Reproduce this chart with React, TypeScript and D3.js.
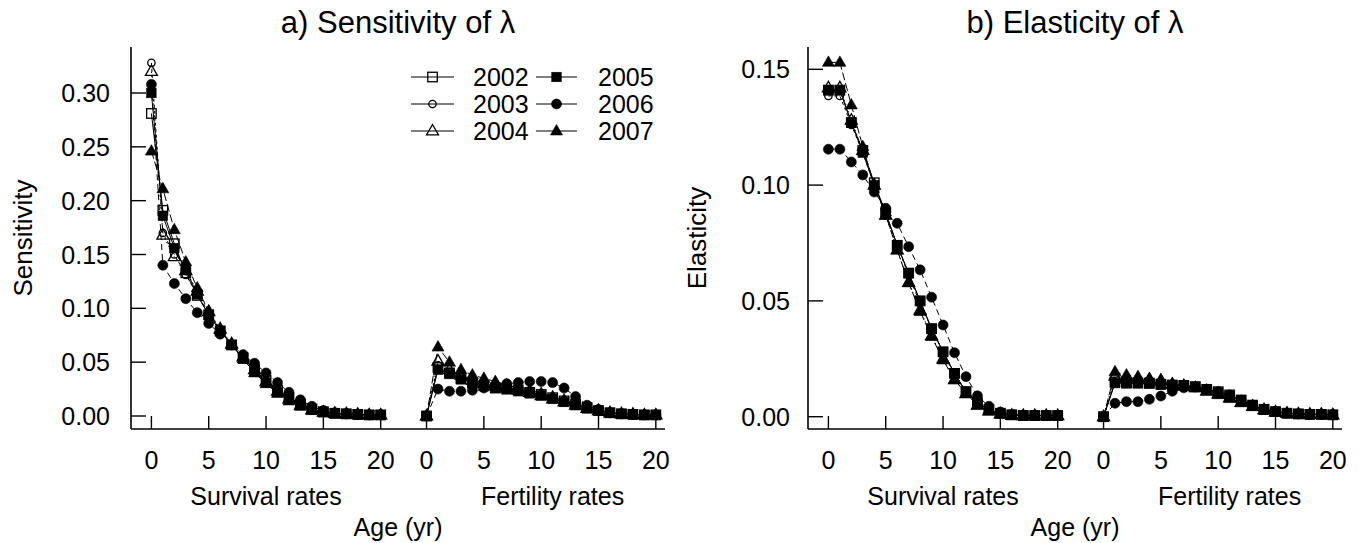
import React from "react";
import * as d3 from "d3";

// ---------- data ----------
const years = ["2002", "2003", "2004", "2005", "2006", "2007"];
const ages = d3.range(0, 21);
const fertOffset = 24; // position offset of fertility block on the shared axis
const ageTicks = [0, 5, 10, 15, 20];
const sensTicks = [0, 0.05, 0.1, 0.15, 0.2, 0.25, 0.3];
const elasTicks = [0, 0.05, 0.1, 0.15];

// Sensitivity – survival rates (ages 0..20)
const sensSurv2002 = [0.281, 0.191, 0.160, 0.133, 0.112, 0.094, 0.079, 0.066, 0.054, 0.043, 0.033, 0.024, 0.017, 0.011, 0.0065, 0.004, 0.0025, 0.002, 0.0015, 0.001, 0.001];
const sensSurv2003 = [0.328, 0.170, 0.150, 0.131, 0.113, 0.096, 0.080, 0.067, 0.055, 0.043, 0.033, 0.024, 0.017, 0.011, 0.0065, 0.004, 0.0025, 0.002, 0.0015, 0.001, 0.001];
const sensSurv2004 = [0.320, 0.168, 0.148, 0.135, 0.116, 0.097, 0.081, 0.067, 0.055, 0.043, 0.032, 0.023, 0.016, 0.010, 0.006, 0.0035, 0.0025, 0.002, 0.0015, 0.001, 0.001];
const sensSurv2005 = [0.300, 0.186, 0.156, 0.136, 0.113, 0.094, 0.079, 0.066, 0.053, 0.041, 0.031, 0.022, 0.015, 0.010, 0.006, 0.0035, 0.0025, 0.002, 0.0015, 0.001, 0.001];
const sensSurv2006 = [0.308, 0.140, 0.123, 0.109, 0.096, 0.086, 0.076, 0.066, 0.057, 0.049, 0.040, 0.031, 0.022, 0.015, 0.009, 0.005, 0.003, 0.002, 0.0015, 0.001, 0.001];
const sensSurv2007 = [0.246, 0.211, 0.173, 0.143, 0.119, 0.097, 0.080, 0.066, 0.053, 0.040, 0.030, 0.021, 0.014, 0.009, 0.005, 0.003, 0.002, 0.0015, 0.001, 0.001, 0.001];

// Sensitivity – fertility rates
const sensFert2002 = [0, 0.045, 0.040, 0.035, 0.031, 0.028, 0.026, 0.025, 0.024, 0.022, 0.020, 0.017, 0.014, 0.011, 0.008, 0.005, 0.003, 0.002, 0.0015, 0.001, 0.001];
const sensFert2003 = [0, 0.047, 0.041, 0.036, 0.032, 0.029, 0.027, 0.025, 0.024, 0.022, 0.020, 0.017, 0.014, 0.011, 0.008, 0.005, 0.003, 0.002, 0.0015, 0.001, 0.001];
const sensFert2004 = [0, 0.051, 0.043, 0.038, 0.033, 0.030, 0.028, 0.026, 0.024, 0.022, 0.019, 0.016, 0.013, 0.010, 0.007, 0.005, 0.003, 0.002, 0.0015, 0.001, 0.001];
const sensFert2005 = [0, 0.043, 0.039, 0.034, 0.031, 0.028, 0.026, 0.025, 0.023, 0.021, 0.019, 0.016, 0.013, 0.010, 0.007, 0.005, 0.003, 0.002, 0.0015, 0.001, 0.001];
const sensFert2006 = [0, 0.025, 0.023, 0.023, 0.024, 0.026, 0.028, 0.030, 0.031, 0.032, 0.032, 0.031, 0.026, 0.018, 0.010, 0.006, 0.003, 0.002, 0.0015, 0.001, 0.001];
const sensFert2007 = [0, 0.064, 0.050, 0.043, 0.038, 0.035, 0.032, 0.029, 0.026, 0.024, 0.021, 0.018, 0.015, 0.011, 0.008, 0.005, 0.003, 0.002, 0.0015, 0.001, 0.001];

// Elasticity – survival rates
const elasSurv2002 = [0.141, 0.141, 0.127, 0.115, 0.101, 0.088, 0.074, 0.062, 0.050, 0.038, 0.028, 0.0187, 0.0108, 0.006, 0.003, 0.0015, 0.0008, 0.0005, 0.0005, 0.0005, 0.0005];
const elasSurv2003 = [0.1385, 0.1385, 0.126, 0.114, 0.100, 0.087, 0.074, 0.061, 0.049, 0.038, 0.028, 0.018, 0.011, 0.006, 0.003, 0.0015, 0.0008, 0.0005, 0.0005, 0.0005, 0.0005];
const elasSurv2004 = [0.142, 0.142, 0.128, 0.115, 0.100, 0.087, 0.072, 0.058, 0.046, 0.035, 0.025, 0.016, 0.010, 0.005, 0.0025, 0.0012, 0.0006, 0.0005, 0.0005, 0.0005, 0.0005];
const elasSurv2005 = [0.141, 0.141, 0.127, 0.114, 0.100, 0.088, 0.074, 0.062, 0.050, 0.038, 0.028, 0.0187, 0.0108, 0.006, 0.003, 0.0015, 0.0008, 0.0005, 0.0005, 0.0005, 0.0005];
const elasSurv2006 = [0.1155, 0.1155, 0.110, 0.1044, 0.097, 0.090, 0.0835, 0.0734, 0.0634, 0.0516, 0.0396, 0.0276, 0.0173, 0.009, 0.0045, 0.002, 0.001, 0.0005, 0.0005, 0.0005, 0.0005];
const elasSurv2007 = [0.153, 0.153, 0.1346, 0.1166, 0.100, 0.087, 0.072, 0.0578, 0.0454, 0.0346, 0.0245, 0.016, 0.010, 0.005, 0.0025, 0.0012, 0.0006, 0.0005, 0.0005, 0.0005, 0.0005];

// Elasticity – fertility rates
const elasFert2002 = [0, 0.015, 0.0146, 0.0146, 0.0145, 0.014, 0.0137, 0.0135, 0.013, 0.0118, 0.0108, 0.0094, 0.0072, 0.005, 0.0032, 0.0022, 0.0015, 0.0012, 0.001, 0.001, 0.0008];
const elasFert2003 = [0, 0.0148, 0.0145, 0.0145, 0.0143, 0.014, 0.0137, 0.0134, 0.013, 0.0117, 0.0106, 0.0092, 0.007, 0.0048, 0.003, 0.0021, 0.0015, 0.0012, 0.001, 0.001, 0.0008];
const elasFert2004 = [0, 0.0175, 0.017, 0.0165, 0.016, 0.0155, 0.014, 0.0133, 0.0125, 0.0112, 0.0098, 0.0082, 0.0062, 0.0045, 0.003, 0.002, 0.0015, 0.0012, 0.001, 0.001, 0.0008];
const elasFert2005 = [0, 0.0145, 0.0144, 0.0144, 0.0143, 0.0139, 0.0136, 0.0134, 0.0128, 0.0116, 0.0104, 0.009, 0.007, 0.0048, 0.003, 0.0021, 0.0015, 0.0012, 0.001, 0.001, 0.0008];
const elasFert2006 = [0, 0.0058, 0.0065, 0.0065, 0.0075, 0.0089, 0.011, 0.0125, 0.0128, 0.0118, 0.0108, 0.0094, 0.0072, 0.005, 0.0032, 0.0022, 0.0015, 0.0012, 0.001, 0.001, 0.0008];
const elasFert2007 = [0, 0.0194, 0.018, 0.0173, 0.0165, 0.016, 0.0142, 0.0135, 0.0125, 0.011, 0.0095, 0.0078, 0.006, 0.0043, 0.0028, 0.002, 0.0015, 0.0012, 0.001, 0.001, 0.0008];

const sensSurv = [sensSurv2002, sensSurv2003, sensSurv2004, sensSurv2005, sensSurv2006, sensSurv2007];
const sensFert = [sensFert2002, sensFert2003, sensFert2004, sensFert2005, sensFert2006, sensFert2007];
const elasSurv = [elasSurv2002, elasSurv2003, elasSurv2004, elasSurv2005, elasSurv2006, elasSurv2007];
const elasFert = [elasFert2002, elasFert2003, elasFert2004, elasFert2005, elasFert2006, elasFert2007];

// ---------- styles ----------
const FONT = "'Liberation Sans', Arial, Helvetica, sans-serif";
const markerShape = ["square", "circle", "triangle", "square", "circle", "triangle"];
const markerFilled = [false, false, false, true, true, true];
const lineDash = ["none", "3,3", "1.5,2.5", "none", "6,4", "8,3"];

function Marker({ i, x, y }: { i: number; x: number; y: number }) {
  const shape = markerShape[i];
  const filled = markerFilled[i];
  const fill = filled ? "#000" : "none";
  const sw = filled ? 0.6 : 1.3;
  if (shape === "square") {
    const s = 9.5;
    return <rect x={x - s / 2} y={y - s / 2} width={s} height={s} fill={fill} stroke="#000" strokeWidth={sw} />;
  }
  if (shape === "circle") {
    const r = filled ? 5 : 3.7;
    return <circle cx={x} cy={y} r={r} fill={fill} stroke="#000" strokeWidth={sw} />;
  }
  const s = 12;
  const h = s * 0.87;
  const pts = `${x},${y - h * 0.62} ${x - s / 2},${y + h * 0.38} ${x + s / 2},${y + h * 0.38}`;
  return <polygon points={pts} fill={fill} stroke="#000" strokeWidth={sw} strokeLinejoin="miter" />;
}

type PanelProps = {
  left: number;
  right: number;
  yTop: number;
  yBottom: number;
  yScale: d3.ScaleLinear<number, number>;
  yTicks: number[];
  surv: number[][];
  fert: number[][];
  title: string;
  yLabel: string;
  yLabelX: number;
  tickLabelRight: number;
  legend?: boolean;
};

function Panel(p: PanelProps) {
  const x = d3.scaleLinear().domain([-1.78, 44.8]).range([p.left, p.right]);
  const line = d3
    .line<[number, number]>()
    .x((d) => x(d[0]))
    .y((d) => p.yScale(d[1]));
  const cx = (p.left + p.right) / 2;
  const tickLen = 13;
  const yTickLen = 15;
  const labelY = 469;
  return (
    <g>
      {/* lines */}
      {years.map((yr, i) => {
        const sPts = ages.map((a) => [a, p.surv[i][a]] as [number, number]);
        const fPts = ages.map((a) => [a + fertOffset, p.fert[i][a]] as [number, number]);
        return (
          <g key={"l" + yr}>
            <path d={line(sPts) || ""} fill="none" stroke="#000" strokeWidth={1} strokeDasharray={lineDash[i]} />
            <path d={line(fPts) || ""} fill="none" stroke="#000" strokeWidth={1} strokeDasharray={lineDash[i]} />
          </g>
        );
      })}
      {/* markers */}
      {years.map((yr, i) => (
        <g key={"m" + yr}>
          {ages.map((a) => (
            <Marker key={"s" + a} i={i} x={x(a)} y={p.yScale(p.surv[i][a])} />
          ))}
          {ages.map((a) => (
            <Marker key={"f" + a} i={i} x={x(a + fertOffset)} y={p.yScale(p.fert[i][a])} />
          ))}
        </g>
      ))}
      {/* axes */}
      <line x1={p.left} x2={p.right} y1={p.yBottom} y2={p.yBottom} stroke="#000" strokeWidth={1.6} />
      <line x1={p.left} x2={p.left} y1={p.yTop} y2={p.yBottom} stroke="#000" strokeWidth={1.6} />
      {[0, fertOffset].map((off) =>
        ageTicks.map((t) => (
          <g key={"xt" + off + "_" + t}>
            <line x1={x(t + off)} x2={x(t + off)} y1={p.yBottom} y2={p.yBottom - tickLen} stroke="#000" strokeWidth={1.4} />
            <text x={x(t + off)} y={labelY} textAnchor="middle" fontSize={25} fontFamily={FONT}>
              {t}
            </text>
          </g>
        ))
      )}
      {p.yTicks.map((t) => (
        <g key={"yt" + t}>
          <line x1={p.left} x2={p.left + yTickLen} y1={p.yScale(t)} y2={p.yScale(t)} stroke="#000" strokeWidth={1.4} />
          <text x={p.tickLabelRight} y={p.yScale(t) + 9} textAnchor="end" fontSize={25} fontFamily={FONT}>
            {t.toFixed(2)}
          </text>
        </g>
      ))}
      {/* labels */}
      <text x={x(10)} y={505} textAnchor="middle" fontSize={25} fontFamily={FONT}>
        Survival rates
      </text>
      <text x={x(fertOffset + 11)} y={505} textAnchor="middle" fontSize={25} fontFamily={FONT}>
        Fertility rates
      </text>
      <text x={cx} y={536} textAnchor="middle" fontSize={25} fontFamily={FONT}>
        Age (yr)
      </text>
      <text x={cx} y={33} textAnchor="middle" fontSize={31} fontFamily={FONT}>
        {p.title}
      </text>
      <text
        transform={`translate(${p.yLabelX},${(p.yTop + p.yBottom) / 2}) rotate(-90)`}
        textAnchor="middle"
        fontSize={26}
        fontFamily={FONT}
      >
        {p.yLabel}
      </text>
      {p.legend && <Legend />}
    </g>
  );
}

function Legend() {
  const rowY = [77, 104, 131];
  const cols = [
    { x1: 411, x2: 454, text: 473 },
    { x1: 536, x2: 577, text: 598 },
  ];
  return (
    <g>
      {years.map((yr, i) => {
        const c = cols[Math.floor(i / 3)];
        const y = rowY[i % 3];
        return (
          <g key={"lg" + yr}>
            <line x1={c.x1} x2={c.x2} y1={y} y2={y} stroke="#000" strokeWidth={1.2} />
            <Marker i={i} x={(c.x1 + c.x2) / 2} y={y} />
            <text x={c.text} y={y + 9} fontSize={25} fontFamily={FONT}>
              {yr}
            </text>
          </g>
        );
      })}
    </g>
  );
}

export default function App() {
  const ySens = d3.scaleLinear().domain([0, 0.3]).range([416, 93]);
  const yElas = d3.scaleLinear().domain([0, 0.15]).range([416.7, 69.3]);
  return (
    <svg
      width={1359}
      height={543}
      viewBox="0 0 1359 543"
      style={{ position: "absolute", left: 0, top: 0, background: "#fff" }}
    >
      <rect x={0} y={0} width={1359} height={543} fill="#fff" />
      <Panel
        left={131}
        right={665}
        yTop={47}
        yBottom={429}
        yScale={ySens}
        yTicks={sensTicks}
        surv={sensSurv}
        fert={sensFert}
        title="a) Sensitivity of λ"
        yLabel="Sensitivity"
        yLabelX={32}
        tickLabelRight={110}
        legend
      />
      <Panel
        left={808}
        right={1342}
        yTop={47}
        yBottom={429}
        yScale={yElas}
        yTicks={elasTicks}
        surv={elasSurv}
        fert={elasFert}
        title="b) Elasticity of λ"
        yLabel="Elasticity"
        yLabelX={706}
        tickLabelRight={790}
      />
    </svg>
  );
}
